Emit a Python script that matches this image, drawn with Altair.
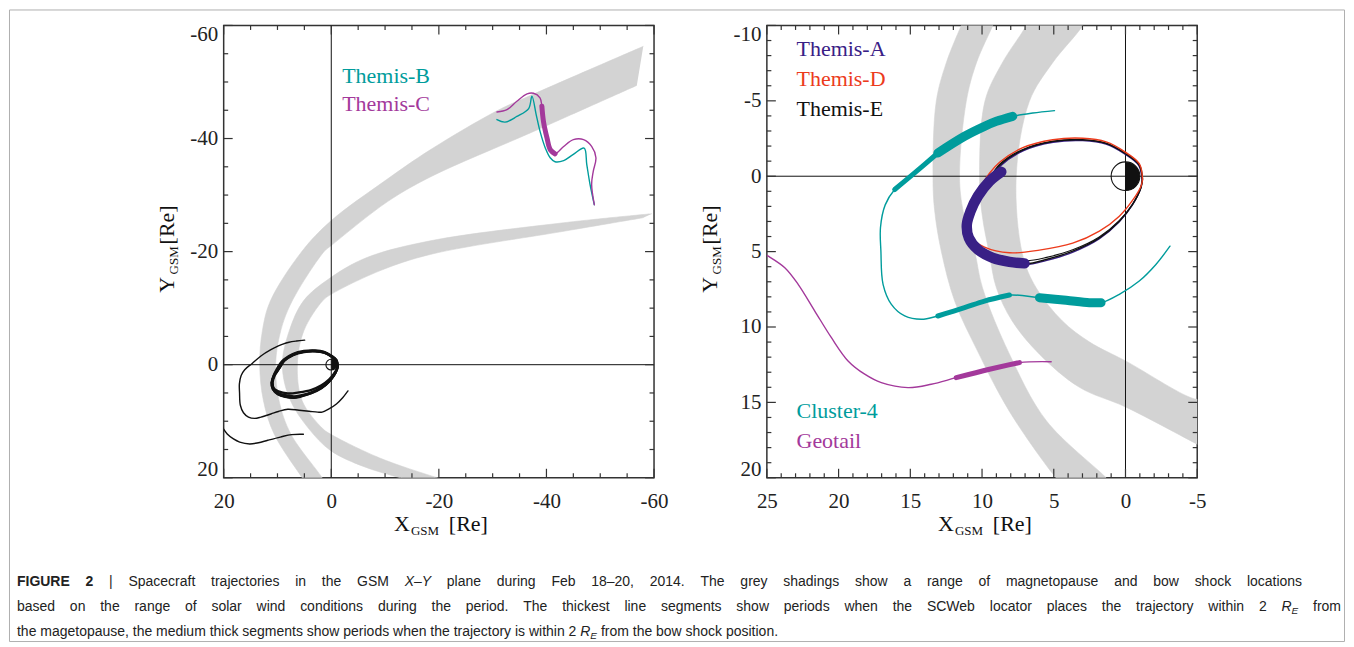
import altair as alt
import pandas as pd

W, H = 431, 453
SERIF = "Liberation Serif"
SANS = "Liberation Sans"
GRAY = "#d3d3d3"
TEAL = "#009c9c"
MAGENTA = "#a3399b"
PURPLE = "#392086"
RED = "#ec3b1c"
BLACK = "#111111"
AXC = "#333333"
MAJ, MIN = 9, 4.5

# ---------------- left panel data ----------------
LBS_X = [-58.0, -37.0, -30.8, -18.4, -10.1, 0.1, 5.4, 11.3, 12.8, 13.3, 12.6, 10.6, 5.4, 4.0,
         0.5, 1.7, 7.5, 9.7, 10.35, 9.4, 7.25, 1.25, 0.1, -10.4, -18.4, -37.0, -56.8]
LBS_Y = [-56.3, -47.6, -44.9, -38.0, -32.6, -25.4, -20.1, -11.3, -6.0, 0.0, 6.4, 12.3, 20.0, 22.0,
         22.0, 20.0, 12.3, 6.4, 0.0, -6.0, -11.3, -20.1, -21.0, -28.8, -33.2, -41.0, -49.4]
LMP_X = [-59.6, -43.2, -18.4, -6.5, 0.1, 5.15, 7.8, 9.1, 7.75, 4.2, 0.1, -6.0, -12.85, -17.0,
         -24.0, -19.7, -9.0, 0.1, 1.6, 5.4, 6.3, 5.1, 1.6, 0.1, -9.0, -18.4, -43.2, -58.0]
LMP_Y = [-26.7, -25.1, -21.9, -18.9, -15.4, -11.3, -6.0, 0.0, 6.0, 11.3, 15.2, 18.0, 20.0, 21.0,
         21.2, 20.0, 16.5, 12.3, 11.3, 6.4, 0.0, -6.0, -11.3, -12.4, -16.6, -19.5, -23.6, -26.0]

THB_X = [-30.8, -32.3, -34.5, -36.7, -37.3, -38.1, -38.8, -39.8, -40.7, -41.6, -43.2, -45.0, -47.0,
         -47.5, -48.1, -48.9]
THB_Y = [-43.35, -42.9, -43.9, -45.3, -47.5, -44.2, -41.3, -38.3, -36.6, -35.9, -36.1, -37.2, -38.3,
         -35.4, -31.9, -28.3]
THC_X = [-30.8, -32.66, -34.5, -36.4, -37.6, -38.8, -39.15, -39.45, -40.1, -40.7, -41.6, -43.2, -45.0,
         -46.9, -48.4, -49.2, -48.7, -48.4, -48.9]
THC_Y = [-44.7, -45.1, -46.6, -47.9, -48.0, -47.2, -45.7, -43.0, -40.1, -38.05, -37.3, -38.6, -39.8,
         -39.8, -38.6, -36.6, -34.2, -31.9, -28.3]
THC_T_X = [-39.15, -39.45, -40.1, -40.7, -41.6]
THC_T_Y = [-45.7, -43.0, -40.1, -38.05, -37.3]

# ---------------- right panel data ----------------
RBS_X = [11.0, 11.45, 12.5, 13.19, 13.42, 13.3, 12.84, 11.9, 10.31, 8.09, 4.84, 4.2,
         0.8, 1.35, 5.53, 8.09, 9.97, 10.52, 11.3, 11.57, 11.1, 10.4, 9.25, 8.8]
RBS_Y = [-11.0, -10.0, -7.5, -4.97, 0.0, 2.3, 4.97, 8.3, 11.6, 15.6, 20.0, 20.6,
         20.6, 20.0, 16.2, 11.8, 7.4, 4.97, 2.4, 0.0, -4.97, -7.5, -10.0, -11.0]
RMP_X = [6.5, 6.92, 8.6, 9.8, 10.17, 10.0, 9.48, 9.0, 7.9, 6.0, 3.21, 0.0, -5.0, -5.5,
         -5.5, -5.0, 0.0, 2.5, 4.4, 6.23, 7.18, 7.62, 6.7, 5.1, 2.98, 2.5]
RMP_Y = [-11.0, -10.0, -7.5, -4.97, 0.0, 2.5, 5.19, 7.4, 9.6, 11.8, 14.0, 15.3, 17.77, 18.0,
         14.6, 14.8, 12.25, 11.0, 9.6, 7.4, 5.19, 0.0, -4.97, -7.5, -10.0, -11.0]

THE_X = [-1.19, -0.96, 0.04, 1.35, 2.98, 5.07, 7.16, 8.78, 9.71, 10.64, 11.1, 10.87, 9.94, 8.55, 6.92,
         5.53, 3.68, 1.82, 0.43, -0.5, -1.08, -1.19]
THE_Y = [0.2, -0.77, -1.54, -2.2, -2.43, -2.32, -1.77, -0.77, 0.55, 1.87, 3.2, 4.3, 5.19, 5.63, 5.81,
         5.52, 4.97, 4.09, 2.98, 1.87, 0.77, 0.2]
THE2_X = [-1.17, -0.94, 0.05, 1.36, 2.98, 5.06, 7.13, 8.74, 9.62, 10.5, 10.9, 10.62, 9.72, 8.5, 6.9,
          5.5, 3.68, 1.83, 0.44, -0.48, -1.06, -1.17]
THE2_Y = [0.22, -0.75, -1.52, -2.17, -2.4, -2.3, -1.74, -0.74, 0.58, 1.88, 3.2, 4.42, 5.05, 5.4, 5.6,
          5.38, 4.88, 4.03, 2.95, 1.86, 0.78, 0.22]
THA_X = [-1.15, -0.92, 0.06, 1.36, 2.98, 5.05, 7.1, 8.7, 9.66, 10.6, 11.06, 10.84, 9.92, 8.55, 6.95,
         5.55, 3.7, 1.84, 0.45, -0.47, -1.05, -1.15]
THA_Y = [0.25, -0.72, -1.48, -2.13, -2.36, -2.25, -1.7, -0.7, 0.6, 1.9, 3.2, 4.32, 5.22, 5.68, 5.87,
         5.6, 5.05, 4.16, 3.04, 1.92, 0.82, 0.25]
THD_X = [-1.19, -0.96, 0.04, 1.35, 2.98, 5.07, 7.16, 8.78, 9.48, 10.17, 10.73, 11.01, 10.8, 9.83, 8.09,
         6.0, 3.68, 1.82, 0.43, -0.5, -1.08, -1.19]
THD_Y = [0.2, -0.83, -1.62, -2.28, -2.52, -2.42, -1.89, -0.93, -0.2, 0.86, 1.99, 3.11, 4.04, 4.7, 5.08,
         4.9, 4.44, 3.64, 2.65, 1.59, 0.66, 0.2]
THA_T_X = [8.66, 9.48, 10.29, 10.8, 11.06, 10.92, 10.29, 9.25, 8.09, 7.04]
THA_T_Y = [-0.29, 0.33, 1.32, 2.32, 3.2, 4.09, 4.86, 5.41, 5.68, 5.78]

C4_X = [4.95, 6.46, 7.86, 9.0, 9.83, 11.22, 13.08, 14.7, 16.09, 16.75, 17.08, 17.05, 16.9, 16.32, 15.39,
        14.23, 13.08, 11.22, 9.83, 8.09, 6.0, 4.14, 2.52, 1.7, 0.43, -0.96, -2.12, -3.1]
C4_Y = [-4.35, -4.19, -3.97, -3.64, -3.31, -2.65, -1.54, -0.22, 0.88, 1.9, 3.4, 4.97, 7.17, 8.5, 9.27,
        9.49, 9.27, 8.72, 8.28, 7.88, 8.06, 8.23, 8.39, 8.39, 7.83, 6.95, 5.85, 4.64]
C4_M1_X = [16.09, 14.7, 13.08]
C4_M1_Y = [0.88, -0.22, -1.54]
C4_T1_X = [13.08, 11.22, 9.83, 9.0, 7.86]
C4_T1_Y = [-1.54, -2.65, -3.31, -3.64, -3.97]
C4_M2_X = [13.08, 11.22, 9.83, 8.09]
C4_M2_Y = [9.27, 8.72, 8.28, 7.88]
C4_T2_X = [6.0, 4.14, 2.52, 1.7]
C4_T2_Y = [8.06, 8.23, 8.39, 8.39]

GT_X = [25.0, 24.91, 23.75, 22.82, 21.66, 20.5, 19.34, 18.18, 17.02, 15.16, 13.54, 11.8, 9.48, 7.39, 5.18]
GT_Y = [5.25, 5.30, 6.07, 7.17, 8.94, 10.71, 12.25, 13.13, 13.69, 14.02, 13.8, 13.36, 12.8, 12.36, 12.3]
GT_M_X = [11.8, 9.48, 7.39]
GT_M_Y = [13.36, 12.8, 12.36]

EARTH_X = [0]
EARTH_Y = [0]

# ---------------- ticks ----------------
L_XMAJ = [20, 0, -20, -40, -60]
L_XMIN = [15, 10, 5, -5, -10, -15, -25, -30, -35, -45, -50, -55]
L_YMAJ = [-60, -40, -20, 0, 20]
L_YMIN = [-55, -50, -45, -35, -30, -25, -15, -10, -5, 5, 10, 15]
R_XMAJ = [25, 20, 15, 10, 5, 0, -5]
R_XMIN = [24, 23, 22, 21, 19, 18, 17, 16, 14, 13, 12, 11, 9, 8, 7, 6, 4, 3, 2, 1, -1, -2, -3, -4]
R_YMAJ = [-10, -5, 0, 5, 10, 15, 20]
R_YMIN = [-9, -8, -7, -6, -4, -3, -2, -1, 1, 2, 3, 4, 6, 7, 8, 9, 11, 12, 13, 14, 16, 17, 18, 19]

# caption (**bold**, *italic*, R_E = italic R with subscript E)
CAPTION_1 = ("**FIGURE** **2** | Spacecraft trajectories in the GSM *X\u2013Y* plane during Feb 18\u201320, 2014. "
             "The grey shadings show a range of magnetopause and bow shock locations")
CAPTION_2 = ("based on the range of solar wind conditions during the period. The thickest line segments "
             "show periods when the SCWeb locator places the trajectory within 2 R_E from")
CAPTION_3 = ("the magetopause, the medium thick segments show periods when the trajectory is within 2 R_E "
             "from the bow shock position.")


def xy(xs, ys):
    return pd.DataFrame({"x": xs, "y": ys, "i": list(range(len(xs)))})


ONE = pd.DataFrame({"a": [0]})


def panel(xdom, ydom, xmaj, xmin, ymaj, ymin):
    sx = alt.Scale(domain=xdom, reverse=True, nice=False, zero=False)
    sy = alt.Scale(domain=ydom, reverse=True, nice=False, zero=False)
    xaxis = alt.Axis(values=xmaj, labelExpr="'' + datum.value", ticks=False, domain=False, grid=False,
                     labelFont=SERIF, labelFontSize=21, labelColor="#222", labelPadding=12.5,
                     labelFlush=False, title=None)
    yaxis = alt.Axis(values=ymaj, labelExpr="'' + datum.value", ticks=False, domain=False, grid=False,
                     labelFont=SERIF, labelFontSize=21, labelColor="#222", labelPadding=6,
                     labelFlush=True, labelFlushOffset=2, title=None)

    def X():
        return alt.X("x:Q", scale=sx, axis=xaxis)

    def Y():
        return alt.Y("y:Q", scale=sy, axis=yaxis)

    def poly(xs, ys):
        return alt.Chart(xy(xs, ys)).mark_line(
            color=GRAY, fill=GRAY, strokeWidth=0.6, interpolate="catmull-rom", clip=True
        ).encode(x=X(), y=Y(), order="i:Q")

    def line(xs, ys, color, width):
        return alt.Chart(xy(xs, ys)).mark_line(
            color=color, strokeWidth=width, interpolate="catmull-rom", clip=True,
            strokeCap="round", strokeJoin="round"
        ).encode(x=X(), y=Y(), order="i:Q")

    def zero_lines():
        v = alt.Chart(pd.DataFrame({"x": [0]})).mark_rule(color=BLACK, strokeWidth=1).encode(x=X())
        h = alt.Chart(pd.DataFrame({"y": [0]})).mark_rule(color=BLACK, strokeWidth=1).encode(y=Y())
        return [v, h]

    def earth(size):
        d = pd.DataFrame({"x": EARTH_X, "y": EARTH_Y})
        ring = alt.Chart(d).mark_point(shape="circle", size=size, filled=False, color=BLACK,
                                       strokeWidth=1.1, opacity=1).encode(x=X(), y=Y())
        half = alt.Chart(d).mark_point(shape="M0,-1A1,1,0,0,1,0,1Z", size=size, filled=True,
                                       color=BLACK, opacity=1).encode(x=X(), y=Y())
        return [ring, half]

    def ticks():
        out = []
        for vals, L in ((xmaj, MAJ), (xmin, MIN)):
            d = pd.DataFrame({"x": vals})
            b = alt.Chart(d).mark_rule(color=AXC, strokeWidth=1.2)
            out.append(b.encode(x=X(), y=alt.value(H), y2=alt.value(H - L)))
            out.append(b.encode(x=X(), y=alt.value(0), y2=alt.value(L)))
        for vals, L in ((ymaj, MAJ), (ymin, MIN)):
            d = pd.DataFrame({"y": vals})
            b = alt.Chart(d).mark_rule(color=AXC, strokeWidth=1.2)
            out.append(b.encode(y=Y(), x=alt.value(0), x2=alt.value(L)))
            out.append(b.encode(y=Y(), x=alt.value(W), x2=alt.value(W - L)))
        return out

    return dict(poly=poly, line=line, zero_lines=zero_lines, earth=earth, ticks=ticks)


def txt(s, x, y, color=BLACK, size=22, font=SERIF, **kw):
    return alt.Chart(ONE).mark_text(text=s, align="left", baseline="alphabetic", font=font,
                                    fontSize=size, color=color, **kw).encode(
        x=alt.value(x), y=alt.value(y))


def titles(xx):
    return [
        txt("X", xx, 506), txt("GSM", xx + 17, 510, size=13), txt("[Re]", xx + 55, 506),
        txt("Y", -50, 267.7, angle=270), txt("GSM", -46, 249.3, size=13, angle=270),
        txt("[Re]", -50, 219.3, angle=270),
    ]


# ---------------- caption layout (Arial/Liberation Sans advance widths, em units) ----------------
AW = {" ": .278, "a": .556, "b": .556, "c": .5, "d": .556, "e": .556, "f": .278, "g": .556, "h": .556,
      "i": .222, "j": .222, "k": .5, "l": .222, "m": .833, "n": .556, "o": .556, "p": .556, "q": .556,
      "r": .333, "s": .5, "t": .278, "u": .556, "v": .5, "w": .722, "x": .5, "y": .5, "z": .5,
      "A": .667, "B": .667, "C": .722, "D": .722, "E": .667, "F": .611, "G": .778, "H": .722, "I": .278,
      "M": .833, "R": .722, "S": .667, "T": .611, "U": .722, "W": .944, "X": .667, "Y": .667,
      ".": .278, ",": .278, "|": .26, "\u2013": .556, "-": .333}
CAP_FS, CAP_SUB = 14, 10
CAP_COLOR = "#222222"
OX, OY = 223, 24  # left plot origin on the page


def tw(s, fs):
    return sum(AW.get(c, .556) for c in s) * fs


def caption_line(text, baseline, right=None, left=16):
    words = text.split(" ")
    widths = []
    for w in words:
        if w == "R_E":
            widths.append(tw("R", CAP_FS) + tw("E", CAP_SUB))
        else:
            widths.append(tw(w.strip("*"), CAP_FS))
    if right is None:
        gap = tw(" ", CAP_FS)
    else:
        gap = (right - left - sum(widths)) / (len(words) - 1)
    out = []
    x = left
    for w, wd in zip(words, widths):
        base = dict(font=SANS, color=CAP_COLOR)
        if w == "R_E":
            out.append(txt("R", x - OX, baseline - OY, size=CAP_FS, fontStyle="italic", **base))
            out.append(txt("E", x - OX + tw("R", CAP_FS), baseline - OY + 3.5, size=CAP_SUB,
                           fontStyle="italic", **base))
        elif w.startswith("**"):
            out.append(txt(w.strip("*"), x - OX, baseline - OY, size=CAP_FS, fontWeight="bold", **base))
        elif w.startswith("*"):
            out.append(txt(w.strip("*"), x - OX, baseline - OY, size=CAP_FS, fontStyle="italic", **base))
        else:
            out.append(txt(w, x - OX, baseline - OY, size=CAP_FS, **base))
        x += wd + gap
    return out


# ---------------- left panel ----------------
P = panel([-60, 20], [-60, 20], L_XMAJ, L_XMIN, L_YMAJ, L_YMIN)
left_layers = [P["poly"](LBS_X, LBS_Y), P["poly"](LMP_X, LMP_Y)]
left_layers += P["zero_lines"]()
left_layers += [
    P["line"](GT_X, GT_Y, BLACK, 1.4),
    P["line"](C4_X, C4_Y, BLACK, 1.4),
    P["line"](THA_X, THA_Y, BLACK, 2.4),
    P["line"](THE_X, THE_Y, BLACK, 2.4),
    P["line"](THE2_X, THE2_Y, BLACK, 2.4),
    P["line"](THD_X, THD_Y, BLACK, 2.4),
]
left_layers += P["earth"](116)
left_layers += [
    P["line"](THB_X, THB_Y, TEAL, 1.4),
    P["line"](THC_X, THC_Y, MAGENTA, 1.4),
    P["line"](THC_T_X, THC_T_Y, MAGENTA, 5),
    txt("Themis-B", 118.7, 57.7, TEAL),
    txt("Themis-C", 118.7, 85.3, MAGENTA),
]
left_layers += P["ticks"]()
left_layers += titles(170.5)
# figure frame and caption
left_layers.append(
    alt.Chart(ONE).mark_rect(filled=False, color="#b0b0b0", strokeWidth=1).encode(
        x=alt.value(-214.5), x2=alt.value(1122.5), y=alt.value(-15.5), y2=alt.value(617))
)
left_layers += caption_line(CAPTION_1, 585, right=1303)
left_layers += caption_line(CAPTION_2, 610, right=1342)
left_layers += caption_line(CAPTION_3, 635)
left = alt.layer(*left_layers).properties(width=W, height=H)

# ---------------- right panel ----------------
Q = panel([-5, 25], [-10, 20], R_XMAJ, R_XMIN, R_YMAJ, R_YMIN)
right_layers = [Q["poly"](RBS_X, RBS_Y), Q["poly"](RMP_X, RMP_Y)]
right_layers += Q["zero_lines"]()
right_layers += [
    Q["line"](THA_X, THA_Y, PURPLE, 1.4),
    Q["line"](THE2_X, THE2_Y, BLACK, 1.1),
    Q["line"](THE_X, THE_Y, BLACK, 1.4),
    Q["line"](THD_X, THD_Y, RED, 1.4),
    Q["line"](THA_T_X, THA_T_Y, PURPLE, 10.5),
    Q["line"](C4_X, C4_Y, TEAL, 1.4),
    Q["line"](C4_M1_X, C4_M1_Y, TEAL, 5),
    Q["line"](C4_M2_X, C4_M2_Y, TEAL, 5),
    Q["line"](C4_T1_X, C4_T1_Y, TEAL, 9),
    Q["line"](C4_T2_X, C4_T2_Y, TEAL, 9),
    Q["line"](GT_X, GT_Y, MAGENTA, 1.4),
    Q["line"](GT_M_X, GT_M_Y, MAGENTA, 5),
]
right_layers += Q["earth"](826)
right_layers += [
    txt("Themis-A", 29.7, 31, PURPLE),
    txt("Themis-D", 29.7, 61, RED),
    txt("Themis-E", 29.7, 91, BLACK),
    txt("Cluster-4", 29.7, 392.7, TEAL),
    txt("Geotail", 29.7, 422.7, MAGENTA),
]
right_layers += Q["ticks"]()
right_layers += titles(171.3)
right = alt.layer(*right_layers).properties(width=W, height=H)

chart = alt.hconcat(left, right, spacing=113, bounds="flush").properties(padding=0).configure_view(
    stroke=AXC, strokeWidth=1.5)

chart.save("out.html", embed_options={"renderer": "svg", "actions": False})
